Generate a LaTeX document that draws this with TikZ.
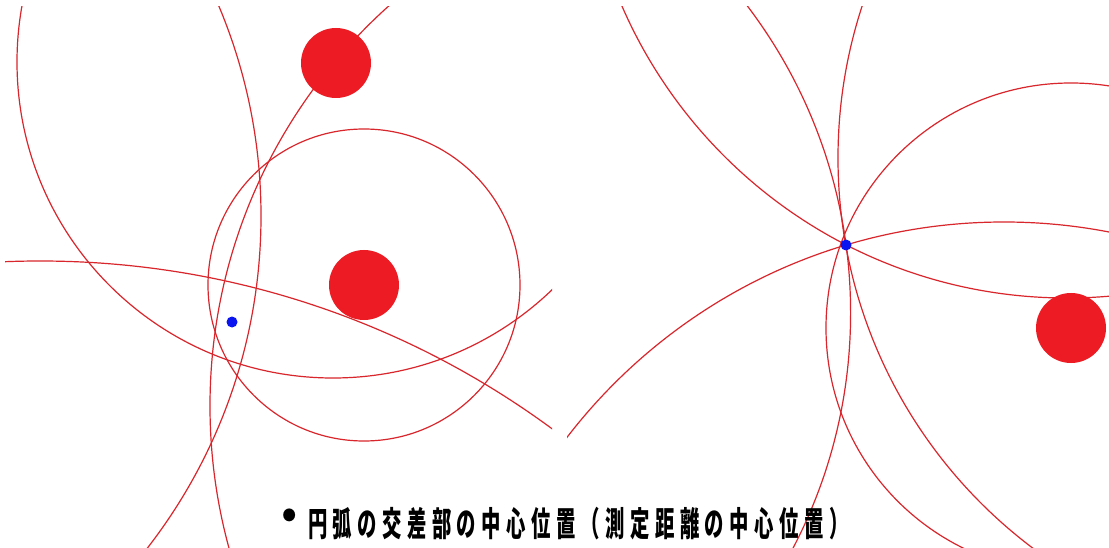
\documentclass[tikz,border=0pt]{standalone}
\usepackage{fontspec}
\newfontfamily\jp{Noto Sans CJK JP}[LetterSpace=28]
\newfontfamily\jpb{Noto Sans CJK JP}
\definecolor{arcred}{HTML}{D8262C}
\definecolor{diskred}{HTML}{ED1C24}
\definecolor{dotblue}{HTML}{0A14F0}
\begin{document}
\begin{tikzpicture}[x=1pt,y=-1pt,
  arcline/.style={draw=arcred, line width=1.2pt},
  disk/.style={circle, fill=diskred, minimum size=70pt, inner sep=0pt},
  bluedot/.style={circle, fill=dotblue, minimum size=11pt, inner sep=0pt}]
\useasboundingbox[fill=white] (0,0) rectangle (1109,548);
% ---------- left panel ----------
\begin{scope}
  \clip (5,7) rectangle (552,548);
  \coordinate (cA) at (333,62);
  \coordinate (cB) at (364,285);
  \coordinate (cC) at (40,1126);
  \coordinate (cD) at (-281,216);
  \coordinate (cE) at (747,406);
  \draw[arcline] (cA) circle[radius=316pt];
  \draw[arcline] (cB) circle[radius=156pt];
  \draw[arcline] (cC) circle[radius=865pt];
  \draw[arcline] (cD) circle[radius=542pt];
  \draw[arcline] (cE) circle[radius=537pt];
\end{scope}
\node[disk] (d1) at (336,63) {};
\node[disk] (d2) at (364,285) {};
\node[bluedot] (b1) at (232,322) {};
% ---------- right panel ----------
\begin{scope}
  \clip (567,7) rectangle (1109,548);
  \coordinate (rA) at (1067,-187);
  \coordinate (rB) at (342.6,313);
  \coordinate (rC) at (1326,158);
  \coordinate (rD) at (1004,773);
  \coordinate (rE) at (1071,328);
  \draw[arcline] (rA) circle[radius=485pt];
  \draw[arcline] (rB) circle[radius=508pt];
  \draw[arcline] (rC) circle[radius=488pt];
  \draw[arcline] (rD) circle[radius=551pt];
  \draw[arcline] (rE) circle[radius=245pt];
\end{scope}
\node[disk] (d3) at (1071,328) {};
\node[bluedot] (b2) at (846,245) {};
% ---------- caption ----------
\node[inner sep=0pt] (bul) at (290,519) {\jpb\fontsize{48pt}{48pt}\selectfont •};
\node[anchor=west, inner sep=0pt, xscale=0.57] (cap) at (308,524)
  {\jp\bfseries\fontsize{34pt}{34pt}\selectfont 円弧の交差部の中心位置（測定距離の中心位置）};
\end{tikzpicture}
\end{document}
